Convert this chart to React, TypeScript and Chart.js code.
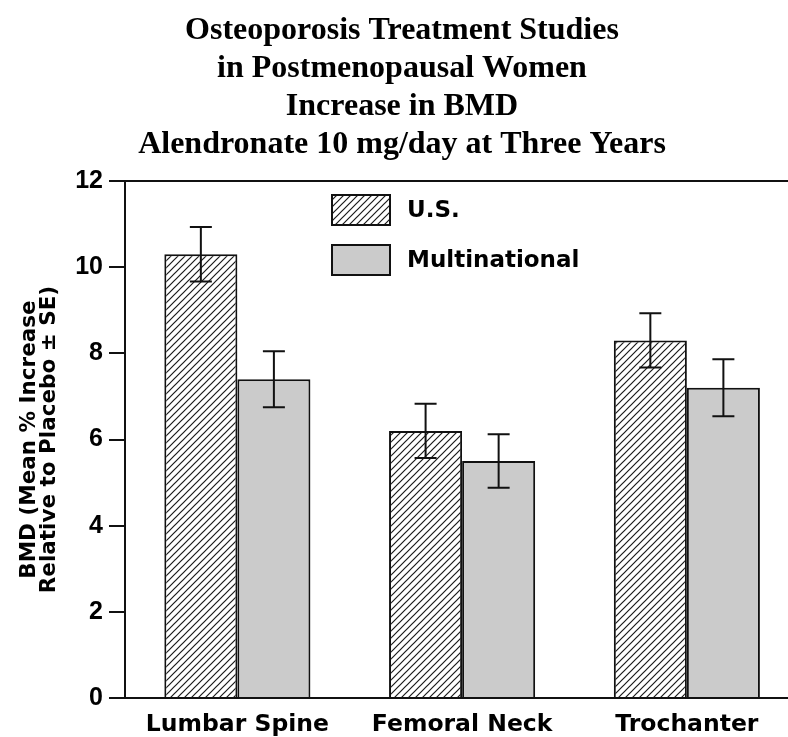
import React, { useEffect, useRef } from 'react';
import { Chart, registerables } from 'chart.js';

Chart.register(...registerables);

// ---- data ----
const categories = ['Lumbar Spine', 'Femoral Neck', 'Trochanter'];
const seriesNames = ['U.S.', 'Multinational'];
const usValues = [10.3, 6.2, 8.3];
const usErrors = [0.63, 0.63, 0.63];
const multiValues = [7.4, 5.5, 7.2];
const multiErrors = [0.65, 0.62, 0.66];
const yTicks = [0, 2, 4, 6, 8, 10, 12];
const titleLines = [
  'Osteoporosis Treatment Studies',
  'in Postmenopausal Women',
  'Increase in BMD',
  'Alendronate 10 mg/day at Three Years',
];
const yTitleLines = ['BMD (Mean % Increase', 'Relative to Placebo \u00B1 SE)'];

const SANS = '"DejaVu Sans", sans-serif';

function makeHatch(): CanvasPattern | string {
  const c = document.createElement('canvas');
  const s = 7;
  c.width = s;
  c.height = s;
  const g = c.getContext('2d');
  if (!g) return '#fff';
  g.fillStyle = '#ffffff';
  g.fillRect(0, 0, s, s);
  g.strokeStyle = '#1a1a1a';
  g.lineWidth = 1.2;
  g.beginPath();
  g.moveTo(-1, s + 1);
  g.lineTo(s + 1, -1);
  g.moveTo(-1, 1);
  g.lineTo(1, -1);
  g.moveTo(s - 1, s + 1);
  g.lineTo(s + 1, s - 1);
  g.stroke();
  return g.createPattern(c, 'repeat') || '#fff';
}

const errorBarPlugin = {
  id: 'errorBars',
  afterDatasetsDraw(chart: any, _args: any, opts: any) {
    const { ctx } = chart;
    const yScale = chart.scales.y;
    const errs: number[][] = opts.errors || [];
    const vals: number[][] = opts.values || [];
    ctx.save();
    ctx.strokeStyle = '#111';
    ctx.lineWidth = opts.lineWidth || 2;
    chart.data.datasets.forEach((_ds: any, d: number) => {
      const meta = chart.getDatasetMeta(d);
      meta.data.forEach((el: any, i: number) => {
        const v = vals[d][i];
        const e = errs[d][i];
        const x = el.x;
        const yt = yScale.getPixelForValue(v + e);
        const yb = yScale.getPixelForValue(v - e);
        const hw = (opts.capWidth || 22) / 2;
        ctx.beginPath();
        ctx.moveTo(x, yt);
        ctx.lineTo(x, yb);
        ctx.moveTo(x - hw, yt);
        ctx.lineTo(x + hw, yt);
        ctx.moveTo(x - hw, yb);
        ctx.lineTo(x + hw, yb);
        ctx.stroke();
      });
    });
    ctx.restore();
  },
};

const insideLegendPlugin = {
  id: 'insideLegend',
  afterDraw(chart: any, _args: any, opts: any) {
    const { ctx, chartArea } = chart;
    ctx.save();
    chart.data.datasets.forEach((ds: any, i: number) => {
      const x = chartArea.left + opts.offsetX;
      const y = chartArea.top + opts.offsetY + i * opts.rowGap;
      ctx.fillStyle = ds.backgroundColor;
      ctx.fillRect(x, y, opts.boxWidth, opts.boxHeight);
      ctx.strokeStyle = '#111';
      ctx.lineWidth = 2;
      ctx.strokeRect(x, y, opts.boxWidth, opts.boxHeight);
      ctx.fillStyle = '#000';
      ctx.font = `bold ${opts.fontSize}px ${SANS}`;
      ctx.textBaseline = 'middle';
      ctx.textAlign = 'left';
      ctx.fillText(ds.label, x + opts.boxWidth + opts.textGap, y + opts.boxHeight / 2 + 1);
    });
    ctx.restore();
  },
};

export default function App() {
  const ref = useRef<HTMLCanvasElement | null>(null);

  useEffect(() => {
    if (!ref.current) return;
    const hatch = makeHatch();
    const chart = new Chart(ref.current, {
      type: 'bar',
      data: {
        datasets: [
          {
            label: seriesNames[0],
            data: categories.map((_c, i) => ({ x: i, y: usValues[i] })),
            backgroundColor: hatch as any,
            borderColor: '#111',
            borderWidth: 2,
          },
          {
            label: seriesNames[1],
            data: categories.map((_c, i) => ({ x: i, y: multiValues[i] })),
            backgroundColor: '#cbcbcb',
            borderColor: '#111',
            borderWidth: 2,
          },
        ],
      },
      options: {
        responsive: false,
        animation: false,
        devicePixelRatio: 1,
        layout: { padding: { left: 16, right: 0, top: 0, bottom: 0 } },
        datasets: {
          bar: { categoryPercentage: 0.65, barPercentage: 1 },
        } as any,
        plugins: {
          legend: { display: false },
          tooltip: { enabled: false },
          title: {
            display: true,
            text: titleLines,
            color: '#000',
            font: {
              family: '"Liberation Serif", "Times New Roman", serif',
              size: 32,
              weight: 'bold',
              lineHeight: 38 / 32,
            },
            padding: { top: 12, bottom: 17 },
          },
          errorBars: {
            values: [usValues, multiValues],
            errors: [usErrors, multiErrors],
            capWidth: 22,
            lineWidth: 2,
          },
          insideLegend: {
            offsetX: 207,
            offsetY: 14,
            rowGap: 50,
            boxWidth: 58,
            boxHeight: 30,
            textGap: 17,
            fontSize: 23,
          },
        } as any,
        scales: {
          x: {
            type: 'linear',
            offset: false,
            min: -0.5,
            max: 2.45,
            grid: { display: false, drawTicks: false, tickLength: 0, offset: false },
            border: { display: true, color: '#111', width: 2 },
            ticks: {
              stepSize: 1,
              includeBounds: false,
              autoSkip: false,
              maxRotation: 0,
              padding: 13,
              color: '#000',
              font: { family: SANS, size: 23.5, weight: 'bold' },
              callback: (v: any) =>
                Number.isInteger(v) && categories[v] !== undefined ? categories[v] : '',
            },
            afterFit: (s: any) => {
              s.height = 39;
            },
          },
          y: {
            min: yTicks[0],
            max: yTicks[yTicks.length - 1],
            grid: {
              drawOnChartArea: true,
              color: (c: any) =>
                c.tick && c.tick.value === yTicks[yTicks.length - 1] ? '#111' : 'rgba(0,0,0,0)',
              tickColor: '#111',
              tickLength: 16,
              lineWidth: 2,
            },
            border: { display: true, color: '#111', width: 2 },
            ticks: {
              stepSize: yTicks[1] - yTicks[0],
              padding: 6,
              color: '#000',
              font: { family: '"Liberation Sans", Arial, sans-serif', size: 25, weight: 'bold' },
            },
            title: {
              display: true,
              text: yTitleLines,
              color: '#000',
              font: { family: SANS, size: 21.5, weight: 'bold', lineHeight: 20 / 21.5 },
              padding: { top: 3, bottom: 0 },
            },
            afterFit: (s: any) => {
              s.width = 109;
            },
          },
        },
      },
      plugins: [errorBarPlugin, insideLegendPlugin],
    } as any);
    return () => chart.destroy();
  }, []);

  return (
    <div style={{ position: 'absolute', left: 0, top: 0, width: 788, height: 737, background: '#fff' }}>
      <canvas ref={ref} width={788} height={737} />
    </div>
  );
}
